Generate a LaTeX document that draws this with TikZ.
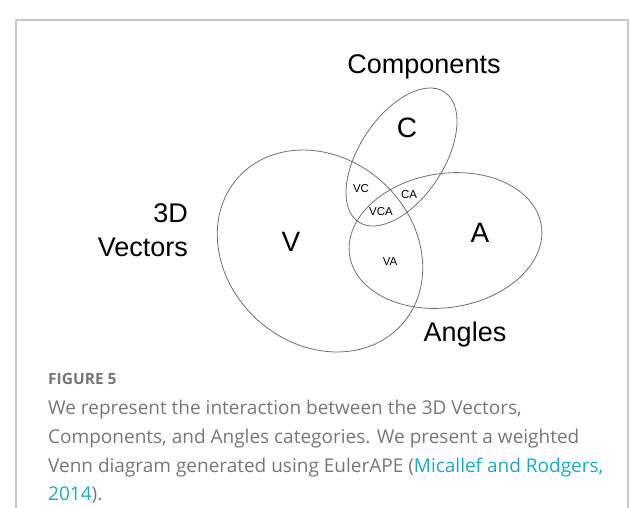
\documentclass[tikz,border=0pt]{standalone}
\usepackage{fontspec}
\setmainfont{Liberation Sans}
\newfontfamily\capfont{Open Sans}
\definecolor{framegray}{HTML}{C8C8C8}
\definecolor{setline}{HTML}{6E6E6E}
\definecolor{captext}{HTML}{767676}
\definecolor{citecol}{HTML}{19A9C6}
\begin{document}
\begin{tikzpicture}[x=1pt,y=-1pt,
  setedge/.style={draw=setline,line width=0.8pt},
  setname/.style={font=\fontsize{27}{30}\selectfont,inner sep=0pt,anchor=base},
  bigletter/.style={font=\fontsize{28}{30}\selectfont,inner sep=0pt},
  region/.style={font=\fontsize{11.5}{13}\selectfont,inner sep=0pt},
  capline/.style={font=\capfont\fontsize{19}{22}\selectfont,text=captext,inner sep=0pt,anchor=base west}]
  \useasboundingbox (0,0) rectangle (629,507);
  % panel frame, open at the bottom
  \draw[framegray,line width=1.6pt] (16,520) -- (16,20) -- (628,20) -- (628,520);

  % the three sets
  \draw[setedge,rotate around={-42:(320,251)}] (320,251) ellipse [x radius=110, y radius=93];
  \draw[setedge,rotate around={56.5:(401.5,157)}] (401.5,157) ellipse [x radius=77.9, y radius=42.1];
  \draw[setedge,rotate around={9:(445.5,240.5)}] (445.5,240.5) ellipse [x radius=97, y radius=67];

  % set names
  \node[setname] (comp) at (424,73) {Components};
  \node[setname,anchor=base east] (vec1) at (188,222) {3D};
  \node[setname,anchor=base east] (vec2) at (188,256) {Vectors};
  \node[setname] (ang) at (465,341) {Angles};

  % region labels
  \node[bigletter] (c) at (407,128) {C};
  \node[bigletter] (v) at (291,242) {V};
  \node[bigletter] (a) at (480,233) {A};
  \node[region] (vc) at (361,189) {VC};
  \node[region] (ca) at (409,195) {CA};
  \node[region] (vca) at (381,212) {VCA};
  \node[region] (va) at (390,262) {VA};

  % caption
  \node[capline,font=\capfont\bfseries\fontsize{15.5}{18}\selectfont] (fig) at (48,384) {FIGURE 5};
  \node[capline] (l1) at (48,414) {We represent the interaction between the 3D Vectors,};
  \node[capline] (l2) at (48,443) {Components, and Angles categories. We present a weighted};
  \node[capline] (l3) at (48,472) {Venn diagram generated using EulerAPE (\textcolor{citecol}{Micallef and Rodgers,}};
  \node[capline] (l4) at (48,500) {\textcolor{citecol}{2014}).};
\end{tikzpicture}
\end{document}
